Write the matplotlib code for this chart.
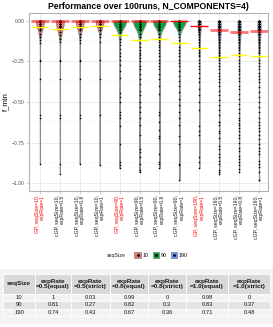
import numpy as np
import matplotlib
matplotlib.use("Agg")
import matplotlib.pyplot as plt
from matplotlib.patches import Patch, Rectangle
from matplotlib.lines import Line2D

plt.rcParams["font.family"] = ["Liberation Sans", "DejaVu Sans"]

# ---- data ----
labels = [
    "GP, seqSize=10,\nexpRate=1", "cGP, seqSize=10,\nexpRate=0.5",
    "cGP, seqSize=10,\nexpRate=0.8", "cGP, seqSize=10,\nexpRate=1",
    "GP, seqSize=90,\nexpRate=1", "cGP, seqSize=90,\nexpRate=0.5",
    "cGP, seqSize=90,\nexpRate=0.8", "cGP, seqSize=90,\nexpRate=1",
    "GP, seqSize=190,\nexpRate=1", "cGP, seqSize=190,\nexpRate=0.5",
    "cGP, seqSize=190,\nexpRate=0.8", "cGP, seqSize=190,\nexpRate=1",
]
is_gp = [True, False, False, False] * 3
seq_size = [10, 10, 10, 10, 90, 90, 90, 90, 190, 190, 190, 190]

# seqSize=10 runs: dense head (value, count) plus single outliers
gp10 = np.repeat([0.0, -0.005, -0.01, -0.02, -0.03, -0.04, -0.05, -0.06, -0.08, -0.10, -0.12, -0.14],
                 [45, 12, 9, 7, 5, 4, 3, 3, 2, 2, 1, 1]).tolist() + [-0.24, -0.25, -0.36, -0.58, -0.60, -0.88]
c10_05 = np.repeat([0.0, -0.005, -0.01, -0.02, -0.03, -0.04, -0.05, -0.07, -0.09, -0.11, -0.13],
                   [44, 12, 9, 7, 6, 5, 3, 2, 2, 2, 1]).tolist() + [-0.24, -0.25, -0.36, -0.58, -0.60, -0.88, -0.94]
c10_08 = np.repeat([0.0, -0.005, -0.01, -0.02, -0.03, -0.04, -0.05, -0.06, -0.08, -0.10, -0.12, -0.14],
                   [46, 12, 9, 7, 5, 4, 3, 2, 2, 2, 1, 1]).tolist() + [-0.24, -0.25, -0.36, -0.58, -0.60, -0.88]
c10_10 = np.repeat([0.0, -0.005, -0.01, -0.02, -0.03, -0.04, -0.06, -0.08, -0.10, -0.13],
                   [50, 13, 10, 7, 5, 4, 3, 2, 1, 1]).tolist() + [-0.24, -0.36, -0.58, -0.89]

# seqSize=90 runs
gp90 = np.repeat([0.0, -0.005, -0.01, -0.02, -0.03, -0.04, -0.05, -0.06, -0.07, -0.09, -0.11],
                 [26, 12, 10, 8, 6, 5, 4, 3, 2, 2, 2]).tolist() + [
    -0.13, -0.15, -0.175, -0.20, -0.22, -0.24, -0.27, -0.31, -0.35, -0.445,
    -0.47, -0.50, -0.56, -0.58, -0.60, -0.65, -0.76, -0.87, -0.89, -0.905]
c90_05 = np.repeat([0.0, -0.005, -0.01, -0.02, -0.03, -0.04, -0.05, -0.06, -0.08, -0.10],
                   [28, 10, 8, 7, 5, 4, 4, 3, 2, 2]).tolist() + [
    -0.12, -0.14, -0.16, -0.18, -0.20, -0.21, -0.23, -0.25, -0.28, -0.30,
    -0.33, -0.36, -0.39, -0.43, -0.46, -0.50, -0.53, -0.56, -0.60, -0.64,
    -0.70, -0.79, -0.81, -0.84, -0.88, -0.92, -0.93]
c90_08 = np.repeat([0.0, -0.005, -0.01, -0.02, -0.03, -0.04, -0.05, -0.06, -0.08],
                   [30, 10, 9, 7, 6, 4, 3, 3, 2]).tolist() + [
    -0.10, -0.12, -0.13, -0.15, -0.16, -0.18, -0.20, -0.22, -0.24, -0.26,
    -0.28, -0.30, -0.33, -0.36, -0.40, -0.45, -0.56, -0.58, -0.62, -0.67,
    -0.71, -0.72, -0.82, -0.87, -0.88, -0.905]
c90_10 = np.repeat([0.0, -0.003, -0.006, -0.01, -0.02, -0.03, -0.04, -0.05, -0.06],
                   [35, 8, 7, 6, 5, 4, 4, 3, 2]).tolist() + [
    -0.08, -0.10, -0.12, -0.14, -0.16, -0.18, -0.20, -0.22, -0.24, -0.26,
    -0.28, -0.31, -0.34, -0.37, -0.40, -0.44, -0.48, -0.52, -0.56, -0.60,
    -0.64, -0.71, -0.76, -0.88, -0.89, -0.98]

# seqSize=190 runs
gp190 = np.repeat([0.0, -0.005, -0.01, -0.02, -0.03, -0.04, -0.05, -0.06, -0.07, -0.08, -0.09],
                  [18, 10, 8, 8, 6, 6, 5, 4, 2, 2, 1]).tolist() + [
    -0.10, -0.11, -0.12, -0.13, -0.14, -0.15, -0.16, -0.17, -0.18, -0.19,
    -0.20, -0.21, -0.22, -0.24, -0.26, -0.28, -0.30, -0.32, -0.35, -0.38,
    -0.42, -0.46, -0.50, -0.55, -0.645, -0.68, -0.70, -0.84, -0.87, -0.905]
c190_05 = np.repeat([0.0, -0.01, -0.02, -0.03, -0.04, -0.05, -0.06, -0.07, -0.08],
                    [10, 7, 6, 6, 6, 6, 6, 4, 4]).tolist() + [
    -0.09, -0.10, -0.11, -0.12, -0.13, -0.14, -0.15, -0.16, -0.17, -0.18,
    -0.19, -0.20, -0.21, -0.22, -0.23, -0.24, -0.26, -0.28, -0.30, -0.32,
    -0.34, -0.36, -0.38, -0.40, -0.43, -0.46, -0.49, -0.52, -0.55, -0.58,
    -0.62, -0.625, -0.64, -0.68, -0.69, -0.72, -0.77, -0.79, -0.82, -0.84,
    -0.86, -0.88, -0.92, -0.93, -0.94]
c190_08 = np.repeat([0.0, -0.01, -0.02, -0.03, -0.04, -0.05, -0.06, -0.07, -0.08],
                    [9, 7, 7, 6, 6, 6, 6, 5, 4]).tolist() + [
    -0.09, -0.10, -0.11, -0.12, -0.13, -0.14, -0.15, -0.16, -0.17, -0.18,
    -0.20, -0.22, -0.24, -0.26, -0.28, -0.30, -0.31, -0.33, -0.35, -0.37,
    -0.40, -0.42, -0.45, -0.48, -0.51, -0.54, -0.57, -0.60, -0.61, -0.63,
    -0.64, -0.66, -0.68, -0.70, -0.72, -0.75, -0.78, -0.80, -0.83, -0.85,
    -0.87, -0.89, -0.91, -0.93]
c190_10 = np.repeat([0.0, -0.01, -0.02, -0.03, -0.04, -0.05, -0.06, -0.07, -0.08],
                    [10, 7, 6, 6, 6, 6, 6, 5, 4]).tolist() + [
    -0.09, -0.10, -0.11, -0.12, -0.13, -0.14, -0.15, -0.16, -0.17, -0.18,
    -0.19, -0.20, -0.22, -0.24, -0.26, -0.28, -0.30, -0.32, -0.34, -0.36,
    -0.38, -0.41, -0.44, -0.47, -0.50, -0.53, -0.56, -0.60, -0.62, -0.64,
    -0.66, -0.68, -0.70, -0.73, -0.76, -0.78, -0.80, -0.82, -0.86, -0.88,
    -0.90, -0.93, -0.98, -0.98]

runs = [gp10, c10_05, c10_08, c10_10, gp90, c90_05, c90_08, c90_10,
        gp190, c190_05, c190_08, c190_10]

medians = [0.0, 0.0, 0.0, 0.0, 0.0, 0.0, 0.0, -0.004, -0.032, -0.059, -0.067, -0.063]
means = [-0.040, -0.053, -0.040, -0.030, -0.087, -0.120, -0.110, -0.140,
         -0.170, -0.223, -0.213, -0.217]

# table under the chart
table_header = ["seqSize", "expRate\n=0.5(equal)", "expRate\n=0.5(strict)",
                "expRate\n=0.8(equal)", "expRate\n=0.8(strict)",
                "expRate\n=1.0(equal)", "expRate\n=1.0(strict)"]
table_seq = ["10", "90", "190"]
table_vals = [
    ["1", "0.03", "0.99", "0", "0.98", "0"],
    ["0.81", "0.27", "0.82", "0.3", "0.83", "0.37"],
    ["0.74", "0.43", "0.67", "0.36", "0.71", "0.48"],
]

# ---- styling ----
fill = {10: "#F8766D", 90: "#00A83A", 190: "#619CFF"}
vwidth = {10: 0.38, 90: 0.62, 190: 0.16}
vbw = {10: 0.3, 90: 0.13, 190: 0.2}
med_alpha = [0.55] * 7 + [1.0, 1.0] + [0.55] * 3
med_lw = [2.0] * 7 + [1.0, 1.0] + [2.0] * 3
W, H = 273, 327

fig = plt.figure(figsize=(W / 100, H / 100), dpi=100)
ax = fig.add_axes([29 / W, 1 - 191 / H, 239 / W, 178 / H])

pos = np.arange(len(runs))
ax.set_xlim(-0.55, 11.45)
ax.set_ylim(-1.047, 0.047)

ax.set_yticks([0.0, -0.25, -0.5, -0.75, -1.0])
ax.set_yticks([-0.125, -0.375, -0.625, -0.875], minor=True)
ax.set_yticklabels(["0.00", "\u22120.25", "\u22120.50", "\u22120.75", "\u22121.00"])
ax.grid(True, which="major", color="#e3e3e3", lw=0.5)
ax.grid(True, which="minor", axis="y", color="#f0f0f0", lw=0.3)
ax.set_axisbelow(True)
for sp in ax.spines.values():
    sp.set_color("#b3b3b3")
    sp.set_linewidth(0.8)
ax.tick_params(axis="both", which="major", length=2, width=0.4, color="#b3b3b3",
               labelsize=3.6, labelcolor="#4d4d4d", pad=1)
ax.tick_params(axis="y", which="minor", length=0)

for i, vals in enumerate(runs):
    s = seq_size[i]
    parts = ax.violinplot([vals], positions=[pos[i]], widths=vwidth[s],
                          showextrema=False, bw_method=vbw[s], points=300)
    for b in parts["bodies"]:
        b.set_facecolor(fill[s])
        b.set_edgecolor("#8a8a8a")
        b.set_linewidth(0.8)
        b.set_alpha(1)
    ax.scatter(np.full(len(vals), pos[i]), vals, s=1.3, c="black", lw=0, zorder=3)
    ax.hlines(medians[i], pos[i] - 0.45, pos[i] + 0.45, color="red",
              alpha=med_alpha[i], lw=med_lw[i], zorder=4)
    ax.hlines(means[i], pos[i] - 0.42, pos[i] + 0.42, color="#FFFF00", lw=1.0, zorder=4)

ax.set_xticks(pos)
ax.set_xticklabels(labels, rotation=90, ha="center", va="top",
                   multialignment="right", linespacing=1.0, fontsize=3.7)
for t, gp in zip(ax.get_xticklabels(), is_gp):
    t.set_color("#FF0000" if gp else "#1a1a1a")

ax.set_ylabel("f_min", fontsize=5.6, labelpad=2)
ax.set_title("Performance over 100runs, N_COMPONENTS=4)", fontsize=6.2,
             fontweight="bold", pad=3)

# legend
handles = [(Patch(facecolor=fill[s], edgecolor="#808080", lw=0.5),
            Line2D([], [], ls="", marker="o", ms=1.0, color="black"))
           for s in [10, 90, 190]]
fig.legend(handles, ["10", "90", "190"], ncol=3, frameon=False, fontsize=3.8,
           loc="center", bbox_to_anchor=(161 / W, 1 - 255 / H),
           handlelength=1.2, handleheight=1.2, handletextpad=0.3,
           columnspacing=0.8)
fig.text(116 / W, 1 - 255 / H, "seqSize", fontsize=3.8, ha="center",
         va="center", color="#1a1a1a")

# table drawn in pixel coordinates
tab = fig.add_axes([0, 0, 1, 1])
tab.set_xlim(0, W)
tab.set_ylim(H, 0)
tab.axis("off")
tab.add_patch(Rectangle((0, 269), W, 55, facecolor="#f3f3f3", lw=0))
col_edges = [3, 35, 71, 110, 148, 186, 228, 270]
row_edges = [274, 294, 301.3, 308.7, 316]
row_fill = ["#f2f2f2", "#e4e4e4", "#f2f2f2"]
for c in range(len(table_header)):
    x0, x1 = col_edges[c], col_edges[c + 1]
    tab.add_patch(Rectangle((x0, row_edges[0]), x1 - x0, row_edges[1] - row_edges[0],
                            facecolor="#d9d9d9", edgecolor="white", lw=0.6))
    tab.text((x0 + x1) / 2, (row_edges[0] + row_edges[1]) / 2, table_header[c],
             ha="center", va="center", fontsize=4.6, fontweight="bold",
             color="#1a1a1a", linespacing=1.1)
    for r in range(len(table_seq)):
        y0, y1 = row_edges[r + 1], row_edges[r + 2]
        tab.add_patch(Rectangle((x0, y0), x1 - x0, y1 - y0,
                                facecolor=row_fill[r], edgecolor="white", lw=0.6))
        txt = table_seq[r] if c == 0 else table_vals[r][c - 1]
        tab.text((x0 + x1) / 2, (y0 + y1) / 2, txt, ha="center", va="center",
                 fontsize=4.2, color="#1a1a1a")

fig.savefig("out.png", dpi=100)
